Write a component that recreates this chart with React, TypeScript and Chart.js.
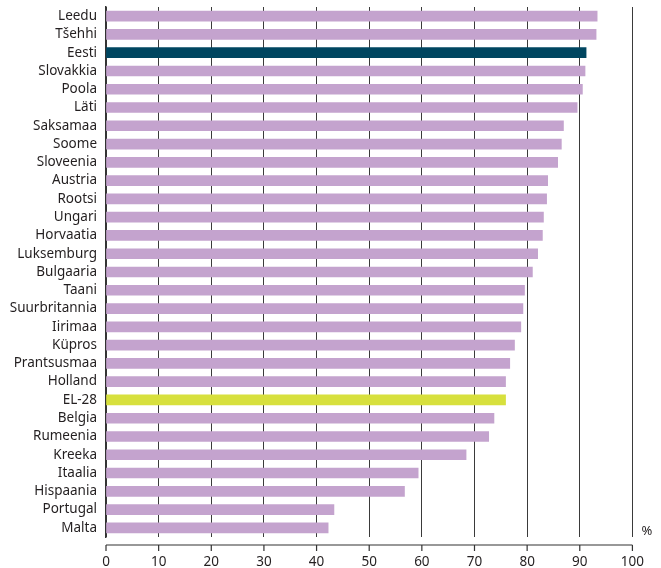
import React, { useEffect, useRef } from "react";
import { Chart, registerables } from "chart.js";

Chart.register(...registerables);

const categories = [
  "Leedu", "Tšehhi", "Eesti", "Slovakkia", "Poola", "Läti", "Saksamaa", "Soome",
  "Sloveenia", "Austria", "Rootsi", "Ungari", "Horvaatia", "Luksemburg", "Bulgaaria",
  "Taani", "Suurbritannia", "Iirimaa", "Küpros", "Prantsusmaa", "Holland", "EL-28",
  "Belgia", "Rumeenia", "Kreeka", "Itaalia", "Hispaania", "Portugal", "Malta",
];

const values = [
  93.3, 93.1, 91.2, 91.0, 90.5, 89.5, 86.9, 86.5,
  85.8, 83.9, 83.7, 83.1, 82.9, 82.0, 81.0,
  79.5, 79.2, 78.8, 77.6, 76.7, 75.9, 75.9,
  73.7, 72.7, 68.4, 59.3, 56.7, 43.3, 42.2,
];

const xTicks = [0, 10, 20, 30, 40, 50, 60, 70, 80, 90, 100];

const PURPLE = "#c4a3ce";
const ESTONIA = "#004660";
const EU = "#d7e03d";
const FONT = "'Noto Sans', sans-serif";
const TEXT = "#231f20";

const colorFor = (c: string) => (c === "Eesti" ? ESTONIA : c === "EL-28" ? EU : PURPLE);

const axisPlugin = {
  id: "bottomAxis",
  afterDraw(chart: any) {
    const { ctx, chartArea, scales } = chart;
    const x = scales.x;
    const y0 = chartArea.bottom + 8;
    ctx.save();
    ctx.strokeStyle = "#333";
    ctx.lineWidth = 1.2;
    ctx.beginPath();
    ctx.moveTo(x.getPixelForValue(0), y0);
    ctx.lineTo(x.getPixelForValue(100), y0);
    xTicks.forEach((t) => {
      const px = x.getPixelForValue(t);
      ctx.moveTo(px, y0);
      ctx.lineTo(px, y0 + 6);
    });
    ctx.stroke();
    ctx.fillStyle = TEXT;
    ctx.font = `13px ${FONT}`;
    ctx.textAlign = "left";
    ctx.textBaseline = "middle";
    ctx.fillText("%", x.getPixelForValue(100) + 9, chartArea.bottom - 6);
    ctx.restore();
  },
};

export default function App() {
  const ref = useRef<HTMLCanvasElement | null>(null);
  useEffect(() => {
    if (!ref.current) return;
    const chart = new Chart(ref.current, {
      type: "bar",
      data: {
        labels: categories,
        datasets: [
          {
            data: values,
            backgroundColor: categories.map(colorFor),
            barThickness: 10,
          },
        ],
      },
      options: {
        indexAxis: "y",
        animation: false,
        responsive: false,
        maintainAspectRatio: false,
        layout: { padding: { top: 7, right: 25, left: 0, bottom: 0 } },
        plugins: { legend: { display: false }, tooltip: { enabled: false } },
        scales: {
          x: {
            type: "linear",
            min: 0,
            max: 100,
            afterBuildTicks: (s: any) => {
              s.ticks = xTicks.map((v) => ({ value: v }));
            },
            afterFit: (s: any) => {
              s.height = 31;
            },
            grid: { color: "#3a3a3a", lineWidth: 1, drawTicks: false },
            border: { display: false },
            ticks: {
              color: TEXT,
              font: { family: FONT, size: 13.5 },
              padding: 17,
              maxRotation: 0,
            },
          },
          y: {
            afterFit: (s: any) => {
              s.width = 106;
              s.paddingTop = 0;
              s.paddingBottom = 0;
            },
            grid: { display: false, drawTicks: false },
            border: { display: true, color: "#333", width: 1.5 },
            ticks: {
              color: TEXT,
              font: { family: FONT, size: 13.5 },
              padding: 9,
              autoSkip: false,
            },
          },
        },
      },
      plugins: [axisPlugin],
    });
    return () => chart.destroy();
  }, []);
  return (
    <div style={{ position: "fixed", left: 0, top: 0, width: 661, height: 568, background: "#fff" }}>
      <canvas ref={ref} width={661} height={568} style={{ width: 661, height: 568 }} />
    </div>
  );
}
